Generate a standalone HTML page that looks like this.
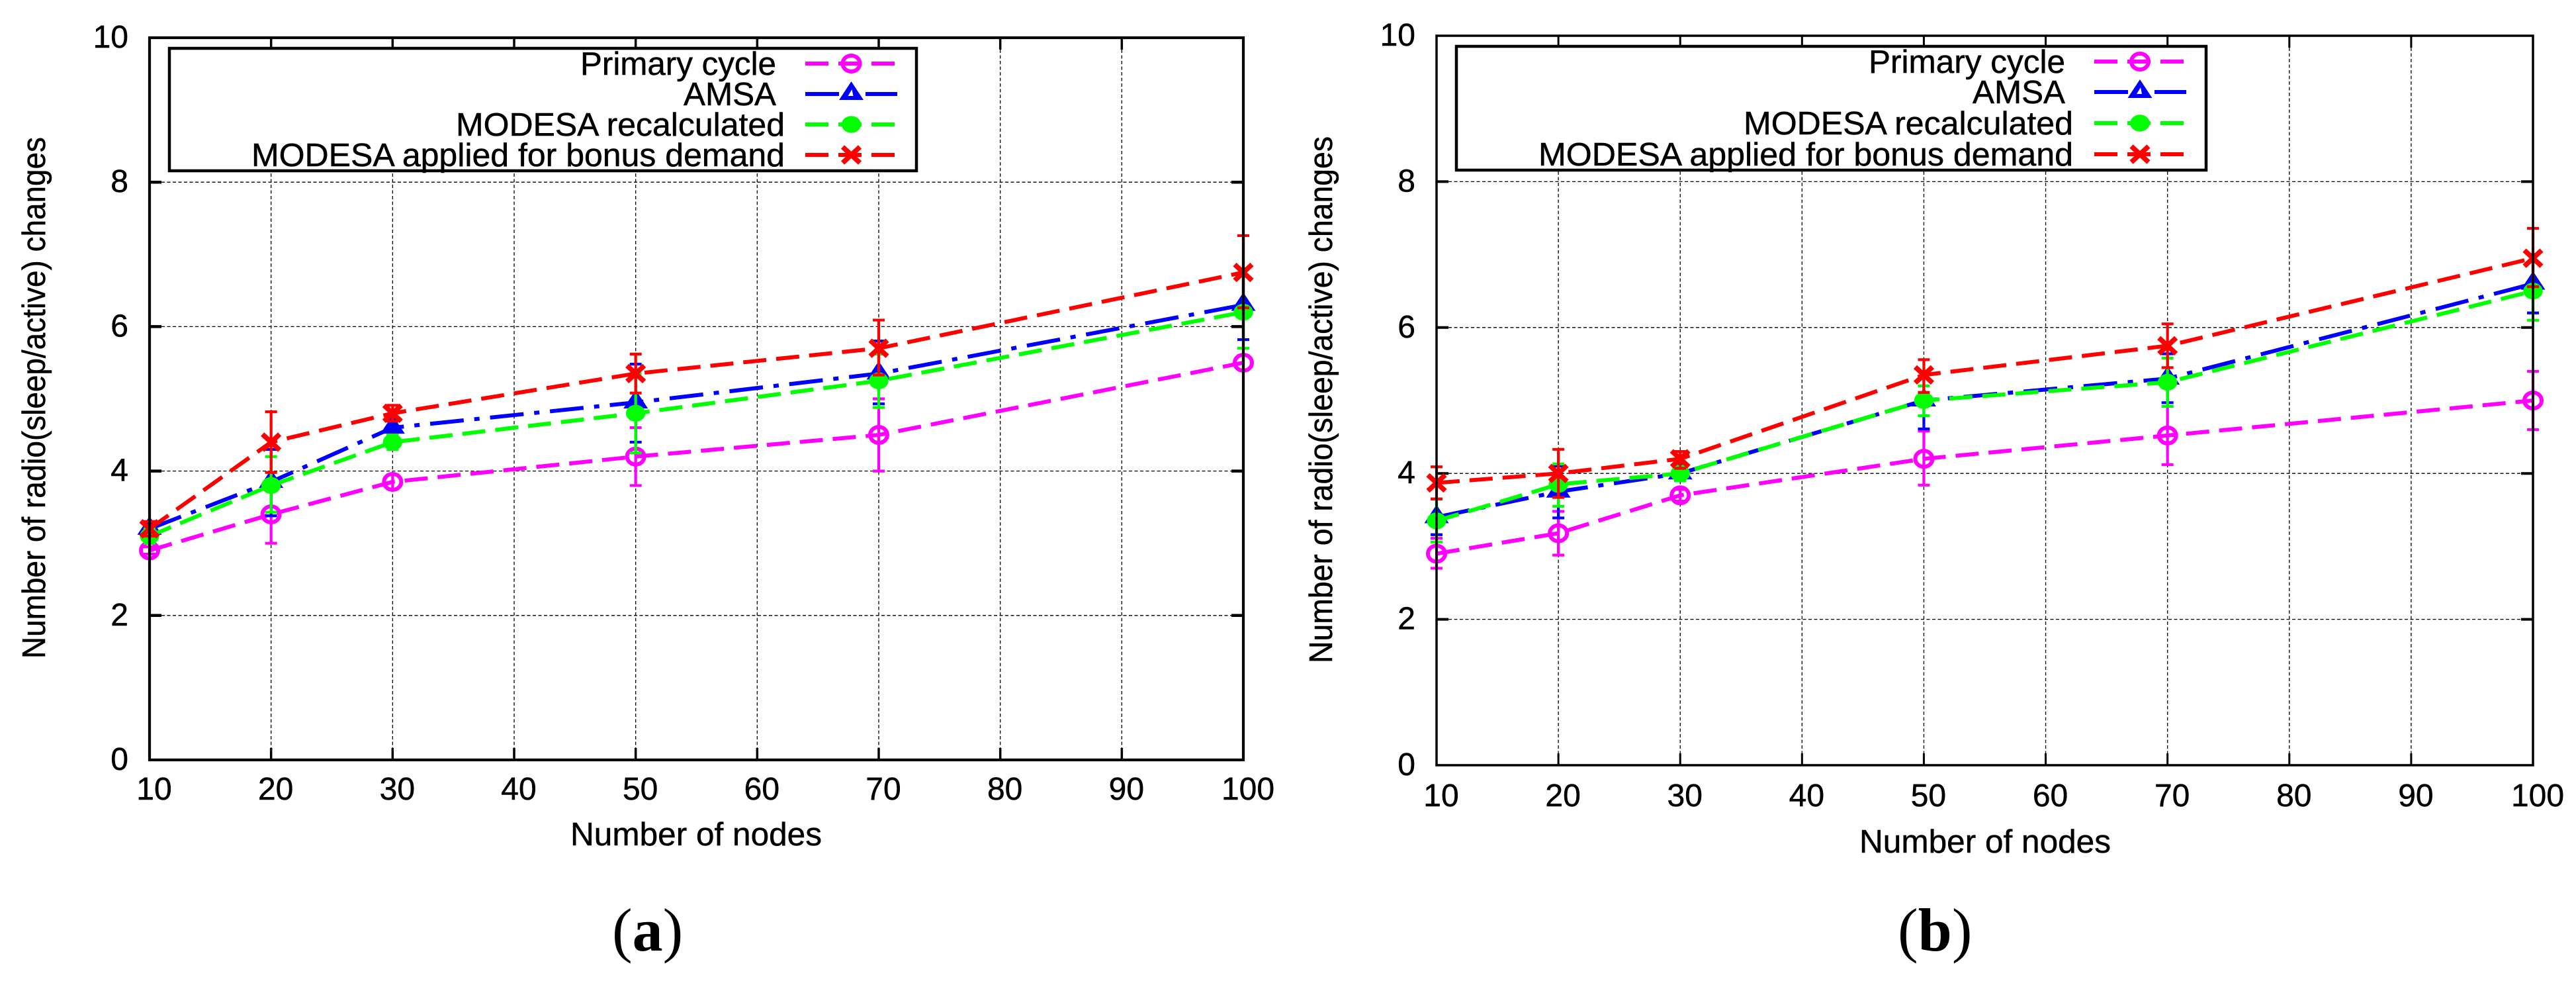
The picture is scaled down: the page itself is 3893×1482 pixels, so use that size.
<!DOCTYPE html>
<html lang="en">
<head>
<meta charset="utf-8">
<title>Number of radio (sleep/active) changes</title>
<style>
html,body{margin:0;padding:0;background:#fff;}
svg{display:block;}
text{font-family:"Liberation Sans",sans-serif;fill:#000;stroke:#000;stroke-width:0.5px;}
.cap{font-family:"Liberation Serif",serif;font-size:92px;stroke:none;}
</style>
</head>
<body>
<svg id="figure" xmlns="http://www.w3.org/2000/svg" width="3893" height="1482" viewBox="0 0 3893 1482">
  <rect x="0" y="0" width="3893" height="1482" fill="#fff"/>
  <text class="cap" x="925" y="1436">(<tspan font-weight="bold">a</tspan>)</text>
  <text class="cap" x="2868" y="1436">(<tspan font-weight="bold">b</tspan>)</text>
</svg>
<script>
const nodeCounts = [10, 20, 30, 50, 70, 100];
const xTickLabels = [10, 20, 30, 40, 50, 60, 70, 80, 90, 100];
const yTickLabels = [0, 2, 4, 6, 8, 10];
const seriesNames = ['Primary cycle', 'AMSA', 'MODESA recalculated', 'MODESA applied for bonus demand'];

const aPrimary = [2.9, 3.4, 3.85, 4.2, 4.5, 5.5];
const aPrimaryLow = [2.85, 3.0, 3.75, 3.8, 4.0, 5.4];
const aPrimaryHigh = [2.95, 3.8, 3.95, 4.6, 5.0, 5.6];
const aAmsa = [3.2, 3.85, 4.6, 4.95, 5.35, 6.3];
const aAmsaLow = [3.1, 3.38, 4.5, 4.4, 4.93, 5.82];
const aAmsaHigh = [3.3, 4.3, 4.7, 5.48, 5.8, 6.8];
const aModesa = [3.1, 3.8, 4.4, 4.8, 5.25, 6.2];
const aModesaLow = [3.0, 3.43, 4.3, 4.25, 4.88, 5.7];
const aModesaHigh = [3.2, 4.2, 4.5, 5.35, 5.62, 6.7];
const aBonus = [3.2, 4.4, 4.8, 5.35, 5.7, 6.75];
const aBonusLow = [3.1, 3.98, 4.69, 5.08, 5.33, 6.26];
const aBonusHigh = [3.3, 4.82, 4.91, 5.62, 6.09, 7.26];

const bPrimary = [2.9, 3.18, 3.7, 4.2, 4.52, 5.0];
const bPrimaryLow = [2.7, 2.88, 3.62, 3.84, 4.12, 4.6];
const bPrimaryHigh = [3.11, 3.48, 3.78, 4.58, 4.92, 5.4];
const bAmsa = [3.4, 3.75, 4.0, 5.0, 5.3, 6.6];
const bAmsaLow = [3.16, 3.39, 3.9, 4.61, 4.97, 6.2];
const bAmsaHigh = [3.65, 4.1, 4.1, 5.4, 5.64, 7.0];
const bModesa = [3.35, 3.85, 4.0, 5.0, 5.25, 6.5];
const bModesaLow = [3.06, 3.55, 3.9, 4.79, 4.92, 6.1];
const bModesaHigh = [3.65, 4.13, 4.1, 5.2, 5.58, 6.9];
const bBonus = [3.87, 4.0, 4.2, 5.35, 5.75, 6.95];
const bBonusLow = [3.65, 3.67, 4.07, 5.11, 5.45, 6.56];
const bBonusHigh = [4.09, 4.33, 4.3, 5.56, 6.05, 7.36];

const NS = 'http://www.w3.org/2000/svg';
const root = document.getElementById('figure');
const DASH_COLORS = ['#ff00ff', '#0000ff', '#00ff00', '#ff0000'];
const DASHES = ['35 15', '51 16 8 16', '35 15', '35 15'];

function svgEl(tag, attrs, parent) {
  const el = document.createElementNS(NS, tag);
  for (const k in attrs) el.setAttribute(k, attrs[k]);
  parent.appendChild(el);
  return el;
}

function drawMarker(kind, cx, cy, color, parent, withHole) {
  const g = svgEl('g', {}, parent);
  
  
  if (kind === 'circle-open') {
    svgEl('ellipse', { cx: cx, cy: cy, rx: 13, ry: 12, fill: 'none', stroke: color, 'stroke-width': 6 }, g);
  } else if (kind === 'triangle') {
    const pts = cx + ',' + (cy - 19) + ' ' + (cx - 18.5) + ',' + (cy + 9) + ' ' + (cx + 18.5) + ',' + (cy + 9);
    svgEl('polygon', { points: pts, fill: color }, g);
    if (withHole) {
      const hole = (cx + 1) + ',' + (cy - 7) + ' ' + (cx - 5) + ',' + (cy + 3) + ' ' + (cx + 3) + ',' + (cy + 3);
      svgEl('polygon', { points: hole, fill: '#fff' }, g);
    }
  } else if (kind === 'circle-fill') {
    svgEl('ellipse', { cx: cx, cy: cy, rx: 14.7, ry: 12.7, fill: color }, g);
  } else {
    svgEl('line', { x1: cx - 13, y1: cy - 12, x2: cx + 13, y2: cy + 12, stroke: color, 'stroke-width': 7.5 }, g);
    svgEl('line', { x1: cx - 13, y1: cy + 12, x2: cx + 13, y2: cy - 12, stroke: color, 'stroke-width': 7.5 }, g);
  }
}

const MARKERS = ['circle-open', 'triangle', 'circle-fill', 'x-mark'];

function drawPanel(p) {
  const xScale = function (v) { return p.left + (v - 10) / 90 * (p.right - p.left); };
  const yScale = function (v) { return p.bottom - v / 10 * (p.bottom - p.top); };

  const panel = svgEl('g', {}, root);
  
  

  // grid
  xTickLabels.slice(1, -1).forEach(function (t) {
    const el = svgEl('line', { x1: xScale(t), x2: xScale(t), y1: p.top + 18, y2: p.bottom - 18, stroke: '#000', 'stroke-width': 1.3, 'stroke-dasharray': '5 3.5' }, panel);
    
    
  });
  yTickLabels.slice(1, -1).forEach(function (t) {
    const el = svgEl('line', { x1: p.left + 18, x2: p.right - 18, y1: yScale(t), y2: yScale(t), stroke: '#000', 'stroke-width': 1.3, 'stroke-dasharray': '5 3.5' }, panel);
    
    
  });

  // ticks and tick labels
  xTickLabels.forEach(function (t, i) {
    const x = xScale(t);
    if (i > 0 && i < xTickLabels.length - 1) {
      const b = svgEl('line', { x1: x, x2: x, y1: p.bottom, y2: p.bottom - 18, stroke: '#000', 'stroke-width': p.tickW }, panel);
      
      
      const u = svgEl('line', { x1: x, x2: x, y1: p.top, y2: p.top + 18, stroke: '#000', 'stroke-width': p.tickW }, panel);
      
      
    }
    const lbl = svgEl('text', { x: x + 7, y: p.xTickBase, 'font-size': 48, 'text-anchor': 'middle' }, panel);
    lbl.textContent = String(t);
    
    
  });
  yTickLabels.forEach(function (t, i) {
    const y = yScale(t);
    if (i > 0 && i < yTickLabels.length - 1) {
      const l = svgEl('line', { x1: p.left, x2: p.left + 18, y1: y, y2: y, stroke: '#000', 'stroke-width': p.tickW + 1 }, panel);
      
      
      const r = svgEl('line', { x1: p.right, x2: p.right - 18, y1: y, y2: y, stroke: '#000', 'stroke-width': p.tickW + 1 }, panel);
      
      
    }
    const lbl = svgEl('text', { x: p.yLabelRight, y: y + 15, 'font-size': 48, 'text-anchor': 'end' }, panel);
    lbl.textContent = String(t);
    
    
  });

  // axis titles
  const xt = svgEl('text', { x: p.xTitleX, y: p.xTitleBase, 'font-size': 49, textLength: p.xTitleW, lengthAdjust: 'spacingAndGlyphs' }, panel);
  xt.textContent = 'Number of nodes';
  
  
  const yt = svgEl('text', { x: 0, y: 0, 'font-size': 49, textLength: p.yTitleW, lengthAdjust: 'spacingAndGlyphs', transform: 'translate(' + p.yTitleX + ',' + p.yTitleY + ') rotate(-90)' }, panel);
  yt.textContent = 'Number of radio(sleep/active) changes';
  
  

  // legend
  const legend = svgEl('g', {}, panel);
  
  
  svgEl('rect', { x: p.legend.left, y: p.legend.top, width: p.legend.right - p.legend.left, height: p.legend.bottom - p.legend.top, fill: '#fff', stroke: '#000', 'stroke-width': 4.5 }, legend);
  seriesNames.forEach(function (name, i) {
    const row = p.legend.rows[i];
    const entry = svgEl('g', {}, legend);
    
    
    const t = svgEl('text', { x: row.x, y: row.y + 17, 'font-size': 49, textLength: row.w, lengthAdjust: 'spacingAndGlyphs' }, entry);
    t.textContent = name;
    
    
    const s = svgEl('line', { x1: p.legend.lineX1, x2: p.legend.lineX2 + (i === 1 ? 4 : 0), y1: row.y, y2: row.y, stroke: DASH_COLORS[i], 'stroke-width': 6, 'stroke-dasharray': DASHES[i] }, entry);
    
    
    drawMarker(MARKERS[i], p.legend.markerX, row.y, DASH_COLORS[i], entry, true);
  });

  // series
  p.series.forEach(function (s, i) {
    const g = svgEl('g', {}, panel);
    
    
    nodeCounts.forEach(function (n, k) {
      const x = xScale(n);
      const bar = svgEl('path', { d: 'M' + x + ' ' + yScale(s.low[k]) + 'V' + yScale(s.high[k]) + 'M' + (x - 9) + ' ' + yScale(s.low[k]) + 'h18M' + (x - 9) + ' ' + yScale(s.high[k]) + 'h18', fill: 'none', stroke: DASH_COLORS[i], 'stroke-width': 4.2 }, g);
      
      
    });
    const pts = nodeCounts.map(function (n, k) { return xScale(n) + ',' + yScale(s.values[k]); }).join(' ');
    const line = svgEl('polyline', { points: pts, fill: 'none', stroke: DASH_COLORS[i], 'stroke-width': 6, 'stroke-dasharray': DASHES[i] }, g);
    
    
    nodeCounts.forEach(function (n, k) {
      drawMarker(MARKERS[i], xScale(n), yScale(s.values[k]), DASH_COLORS[i], g, false);
    });
  });

  // plot border drawn over the series, as in the reference
  const border = svgEl('rect', { x: p.left, y: p.top, width: p.right - p.left, height: p.bottom - p.top, fill: 'none', stroke: '#000', 'stroke-width': p.borderW }, panel);
  
  
}

drawPanel({
  id: 'a', left: 226, right: 1879, top: 57, bottom: 1148, borderW: 4.2, tickW: 3.5,
  xTickBase: 1208, yLabelRight: 194,
  xTitleX: 862, xTitleBase: 1277, xTitleW: 380,
  yTitleX: 68, yTitleY: 995, yTitleW: 788,
  legend: {
    left: 256, right: 1385, top: 73, bottom: 258, lineX1: 1217, lineX2: 1352, markerX: 1286.5,
    rows: [
      { x: 877, y: 96, w: 296 },
      { x: 1033, y: 142, w: 140 },
      { x: 689, y: 188, w: 497 },
      { x: 380, y: 234, w: 806 }
    ]
  },
  series: [
    { values: aPrimary, low: aPrimaryLow, high: aPrimaryHigh },
    { values: aAmsa, low: aAmsaLow, high: aAmsaHigh },
    { values: aModesa, low: aModesaLow, high: aModesaHigh },
    { values: aBonus, low: aBonusLow, high: aBonusHigh }
  ]
});

drawPanel({
  id: 'b', left: 2171, right: 3828, top: 54, bottom: 1156, borderW: 3.5, tickW: 3,
  xTickBase: 1218, yLabelRight: 2139,
  xTitleX: 2810, xTitleBase: 1288, xTitleW: 380,
  yTitleX: 2013, yTitleY: 1002, yTitleW: 796,
  legend: {
    left: 2201, right: 3334, top: 70, bottom: 257, lineX1: 3165, lineX2: 3300, markerX: 3234,
    rows: [
      { x: 2824, y: 93, w: 297 },
      { x: 2981, y: 139, w: 140 },
      { x: 2635, y: 186, w: 498 },
      { x: 2325, y: 233, w: 808 }
    ]
  },
  series: [
    { values: bPrimary, low: bPrimaryLow, high: bPrimaryHigh },
    { values: bAmsa, low: bAmsaLow, high: bAmsaHigh },
    { values: bModesa, low: bModesaLow, high: bModesaHigh },
    { values: bBonus, low: bBonusLow, high: bBonusHigh }
  ]
});
</script>
</body>
</html>
